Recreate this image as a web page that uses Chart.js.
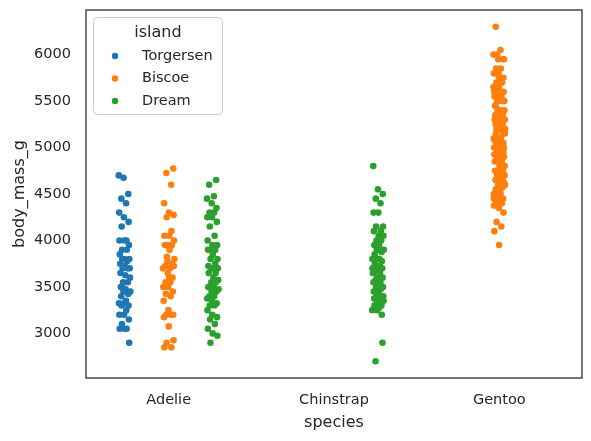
<!DOCTYPE html>
<html><head><meta charset="utf-8">
<script src="https://cdn.jsdelivr.net/npm/chart.js@4.4.1/dist/chart.umd.min.js"></script>
<style>html,body{margin:0;padding:0;background:#fff}#wrap{width:591px;height:441px}</style>
</head><body><div id="wrap"><canvas id="c" width="591" height="441"></canvas></div>
<script>
const species = ["Adelie", "Chinstrap", "Gentoo"];
const islands = ["Torgersen", "Biscoe", "Dream"];
const yTicks = [3000, 3500, 4000, 4500, 5000, 5500, 6000];
// body_mass_g per (species, island)
const adelieTorgersen = [4700,4675,4500,4450,4400,4300,4250,4200,4150,4000,4000,4000,3950,3900,3900,3850,3800,3800,3800,3775,3750,3725,3700,3700,3700,3650,3625,3600,3550,3550,3500,3475,3450,3450,3425,3400,3350,3325,3325,3300,3300,3250,3200,3200,3150,3100,3050,3050,3050,2900,3500];
const adelieBiscoe = [4775,4725,4600,4400,4300,4275,4250,4100,4050,4050,4000,3950,3950,3950,3900,3800,3775,3750,3725,3700,3700,3650,3600,3550,3550,3500,3500,3450,3425,3400,3350,3250,3200,3200,3200,3175,3075,2925,2900,2850,2850,3600,3725,3825];
const adelieDream = [4650,4600,4475,4450,4400,4350,4300,4300,4250,4250,4200,4150,4050,4000,3950,3950,3900,3900,3900,3850,3800,3800,3750,3725,3700,3700,3700,3650,3650,3600,3575,3550,3550,3500,3500,3475,3450,3450,3400,3400,3375,3350,3325,3300,3300,3250,3200,3175,3150,3100,3050,3000,2975,2900,3900,3500];
const chinstrapDream = [4800,4550,4500,4450,4400,4300,4300,4150,4150,4100,4100,4050,4050,4000,4000,3950,3950,3900,3900,3875,3850,3800,3800,3800,3775,3750,3725,3700,3700,3700,3675,3650,3650,3600,3600,3575,3550,3550,3525,3500,3500,3475,3450,3450,3400,3400,3400,3375,3350,3350,3325,3300,3300,3275,3250,3250,3200,3800,3900,3700,3600,3500,3950,4050,3650,3450,2900,2700];
const gentooBiscoe = [6300,6050,6000,5950,5950,5850,5850,5800,5800,5750,5700,5700,5650,5650,5600,5600,5550,5550,5550,5500,5500,5500,5450,5400,5400,5400,5350,5350,5300,5300,5300,5250,5250,5200,5200,5200,5150,5150,5100,5100,5100,5050,5050,5000,5000,5000,5000,4950,4950,4925,4900,4900,4875,4850,4850,4800,4800,4750,4750,4750,4700,4700,4700,4650,4650,4625,4600,4600,4575,4550,4500,4500,4450,4450,4400,4400,4375,4350,4300,4200,4150,4100,3950,5000,5100,5200,5300,5400,5500,5600,5700,5800,4900,4800,4700,4600,4500,5050,5150,5250,5350,5450,5550,5650,4850,4750,4650,4550,4450,5000,4950,5200,5400,5600,5750,4625,4725,4875,5075,5325,5950,6000,4400];

const colors = ["#1f77b4", "#ff7f0e", "#2ca02c"];
const hueOffset = [-0.8/3, 0, 0.8/3];
const jitterWidth = 0.035;
function jit(i, k){ return (((i*7919 + k*131) % 101)/100 - 0.5) * 2 * jitterWidth; }
function pts(vals, sp, isl, k){
  return vals.map((v,i)=>({x: sp + hueOffset[isl] + jit(i,k), y: v}));
}
const groups = [
  {isl:0, parts:[[adelieTorgersen,0]]},
  {isl:1, parts:[[adelieBiscoe,0],[gentooBiscoe,2]]},
  {isl:2, parts:[[adelieDream,0],[chinstrapDream,1]]}
];
const datasets = groups.map((g,gi)=>({
  label: islands[g.isl],
  data: g.parts.flatMap((p,pi)=>pts(p[0], p[1], g.isl, gi*3+pi)),
  backgroundColor: colors[g.isl],
  borderWidth: 0,
  pointRadius: 3.3,
  pointHoverRadius: 3.3
}));

const FONT = "'DejaVu Sans', sans-serif";
const frame = {
  id:'frame',
  afterDraw(chart){
    const {ctx, chartArea:a} = chart;
    ctx.save();
    ctx.strokeStyle = '#262626'; ctx.lineWidth = 1.25;
    ctx.strokeRect(a.left, a.top, a.right-a.left, a.bottom-a.top);
    // legend
    const bx=93.5, by=17.5, bw=129, bh=97, r=4;
    ctx.beginPath();
    ctx.moveTo(bx+r,by); ctx.lineTo(bx+bw-r,by); ctx.arcTo(bx+bw,by,bx+bw,by+r,r);
    ctx.lineTo(bx+bw,by+bh-r); ctx.arcTo(bx+bw,by+bh,bx+bw-r,by+bh,r);
    ctx.lineTo(bx+r,by+bh); ctx.arcTo(bx,by+bh,bx,by+bh-r,r);
    ctx.lineTo(bx,by+r); ctx.arcTo(bx,by,bx+r,by,r); ctx.closePath();
    ctx.fillStyle='rgba(255,255,255,0.8)'; ctx.fill();
    ctx.strokeStyle='#cccccc'; ctx.lineWidth=1; ctx.stroke();
    ctx.fillStyle='#262626'; ctx.textBaseline='middle';
    ctx.font = "16px " + FONT; ctx.textAlign='center';
    ctx.fillText('island', 158, 33);
    ctx.font = "14.5px " + FONT; ctx.textAlign='left';
    chart.data.datasets.forEach((d,i)=>{
      const y = 56 + i*22.5;
      ctx.beginPath(); ctx.arc(115, y, 3.2, 0, Math.PI*2);
      ctx.fillStyle = d.backgroundColor; ctx.fill();
      ctx.fillStyle='#262626';
      ctx.fillText(d.label, 142, y);
    });
    ctx.restore();
  }
};

new Chart(document.getElementById('c'), {
  type: 'scatter',
  data: { datasets },
  plugins: [frame],
  options: {
    responsive: false, animation: false,
    layout: { padding: { top: 10, right: 9, left: 0, bottom: 0 } },
    plugins: { legend: { display: false }, tooltip: { enabled: false } },
    scales: {
      x: {
        type: 'linear', min: -0.5, max: 2.5,
        grid: { display: false }, border: { display: false },
        afterBuildTicks: s => { s.ticks = species.map((_,i)=>({value:i})); },
        afterFit: s => { s.height = 63; s.paddingLeft = 0; s.paddingRight = 0; },
        ticks: { callback: v => species[v], color: '#262626', font: { family: FONT, size: 14.5 }, padding: 6, maxRotation: 0, autoSkip: false },
        title: { display: true, text: 'species', color: '#262626', font: { family: FONT, size: 16 }, padding: { top: 0, bottom: 9 } }
      },
      y: {
        min: 2520, max: 6480,
        grid: { display: false }, border: { display: false },
        afterBuildTicks: s => { s.ticks = yTicks.map(v=>({value:v})); },
        afterFit: s => { s.width = 86; s.paddingTop = 0; s.paddingBottom = 0; },
        ticks: { callback: v => String(v), color: '#262626', font: { family: FONT, size: 14.5 }, padding: 7 },
        title: { display: true, text: 'body_mass_g', color: '#262626', font: { family: FONT, size: 16 }, padding: { top: 10, bottom: 4 } }
      }
    }
  }
});
</script></body></html>
